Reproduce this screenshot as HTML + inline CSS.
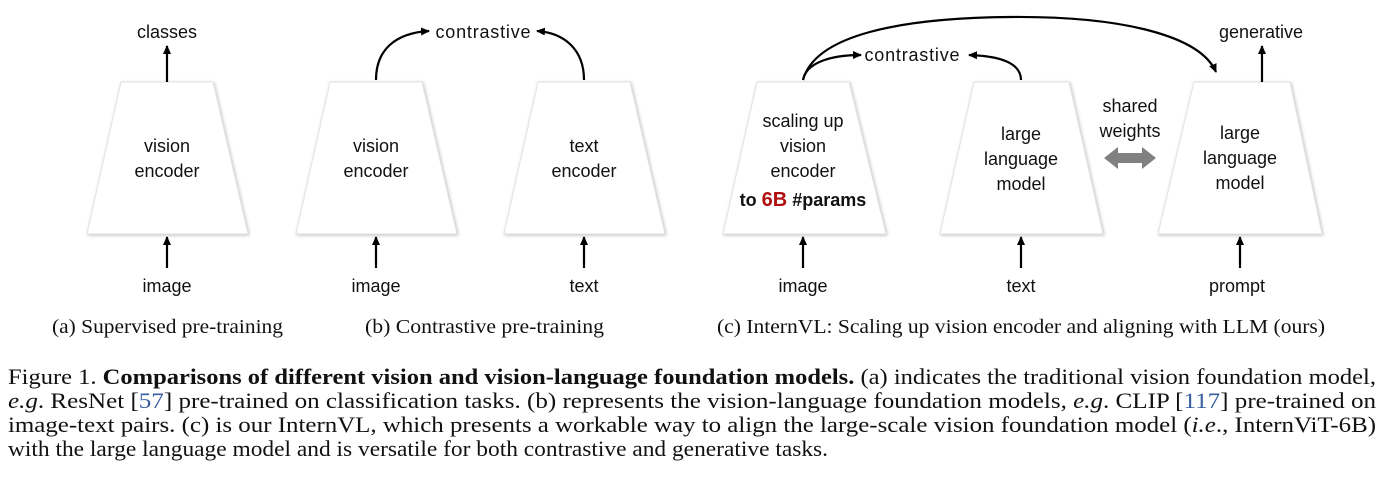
<!DOCTYPE html>
<html><head><meta charset="utf-8"><style>
body{margin:0;background:#fff;width:1386px;height:488px;overflow:hidden}
</style></head><body>
<svg width="1386" height="488" style="position:absolute;left:0;top:0" font-family="Liberation Sans, sans-serif">
<defs>
<marker id="ah" markerWidth="10" markerHeight="10" refX="8" refY="5" orient="auto" markerUnits="userSpaceOnUse"><path d="M0,1 L9,5 L0,9 Z" fill="#000"/></marker>
<filter id="sh" x="-10%" y="-10%" width="120%" height="120%"><feDropShadow dx="1" dy="1" stdDeviation="1.5" flood-color="#999" flood-opacity="0.6"/></filter>
</defs>
<g fill="#fff" stroke="#e2e2e2" stroke-width="1" filter="url(#sh)">
<polygon points="121,82 213,82 248,234 87,234"/>
<polygon points="330,82 422,82 457,234 296,234"/>
<polygon points="538,82 630,82 665,234 504,234"/>
<polygon points="757,82 849,82 886,234 723,234"/>
<polygon points="974,82 1069,82 1103,234 940,234"/>
<polygon points="1194,82 1290,82 1322,234 1158,234"/>
</g>
<g stroke="#000" stroke-width="2.2" fill="none">
<line x1="167" y1="82" x2="167" y2="46" marker-end="url(#ah)"/>
<line x1="1262" y1="82" x2="1262" y2="46" marker-end="url(#ah)"/>
<line x1="167" y1="268" x2="167" y2="237" marker-end="url(#ah)"/>
<line x1="376" y1="268" x2="376" y2="237" marker-end="url(#ah)"/>
<line x1="584" y1="268" x2="584" y2="237" marker-end="url(#ah)"/>
<line x1="803" y1="268" x2="803" y2="237" marker-end="url(#ah)"/>
<line x1="1021" y1="268" x2="1021" y2="237" marker-end="url(#ah)"/>
<line x1="1240" y1="268" x2="1240" y2="237" marker-end="url(#ah)"/>
<path d="M376,80 C376,50 395,33 429,31" marker-end="url(#ah)"/>
<path d="M584,80 C584,50 565,33 537,31" marker-end="url(#ah)"/>
<path d="M803,80 C806,63 830,55 861,55" marker-end="url(#ah)"/>
<path d="M1021,80 C1021,63 1000,56 969,55" marker-end="url(#ah)"/>
<path d="M803,80 C815,35 900,18 1010,17 C1120,16 1200,35 1216,72" marker-end="url(#ah)"/>
</g>
<polygon points="1104,158 1118,147 1118,153 1142,153 1142,147 1156,158 1142,169 1142,163 1118,163 1118,169" fill="#808080"/>
<g font-size="18" fill="#111" text-anchor="middle">
<text x="167" y="38">classes</text>
<text x="483" y="38" textLength="95">contrastive</text>
<text x="912" y="61" textLength="95">contrastive</text>
<text x="1261" y="38">generative</text>
<text x="167" y="152">vision</text><text x="167" y="177">encoder</text>
<text x="376" y="152">vision</text><text x="376" y="177">encoder</text>
<text x="584" y="152">text</text><text x="584" y="177">encoder</text>
<text x="803" y="127">scaling up</text><text x="803" y="152">vision</text><text x="803" y="177">encoder</text>
<text x="803" y="206" font-weight="bold">to <tspan fill="#b01010" font-size="20">6B</tspan> #params</text>
<text x="1021" y="140">large</text><text x="1021" y="165">language</text><text x="1021" y="190">model</text>
<text x="1130" y="112">shared</text><text x="1130" y="137">weights</text>
<text x="1240" y="139">large</text><text x="1240" y="164">language</text><text x="1240" y="189">model</text>
<text x="167" y="292">image</text><text x="376" y="292">image</text><text x="584" y="292">text</text>
<text x="803" y="292">image</text><text x="1021" y="292">text</text><text x="1237" y="292">prompt</text>
</g>
<g font-family="Liberation Serif, serif" font-size="20" fill="#111" lengthAdjust="spacingAndGlyphs">
<text x="52" y="333" textLength="231" lengthAdjust="spacingAndGlyphs">(a) Supervised pre-training</text>
<text x="365" y="333" textLength="239" lengthAdjust="spacingAndGlyphs">(b) Contrastive pre-training</text>
<text x="717" y="333" textLength="608" lengthAdjust="spacingAndGlyphs">(c) InternVL: Scaling up vision encoder and aligning with LLM (ours)</text>
</g>
<g font-family="Liberation Serif, serif" font-size="22" fill="#111">
<text x="8" y="384" textLength="1368" lengthAdjust="spacingAndGlyphs">Figure 1. <tspan font-weight="bold">Comparisons of different vision and vision-language foundation models.</tspan> (a) indicates the traditional vision foundation model,</text>
<text x="8" y="408" textLength="1368" lengthAdjust="spacingAndGlyphs"><tspan font-style="italic">e.g</tspan>. ResNet [<tspan fill="#3a5fa0">57</tspan>] pre-trained on classification tasks. (b) represents the vision-language foundation models, <tspan font-style="italic">e.g</tspan>. CLIP [<tspan fill="#3a5fa0">117</tspan>] pre-trained on</text>
<text x="8" y="432" textLength="1368" lengthAdjust="spacingAndGlyphs">image-text pairs. (c) is our InternVL, which presents a workable way to align the large-scale vision foundation model (<tspan font-style="italic">i.e</tspan>., InternViT-6B)</text>
<text x="8" y="456" textLength="820" lengthAdjust="spacingAndGlyphs">with the large language model and is versatile for both contrastive and generative tasks.</text>
</g>
</svg>
</body></html>
